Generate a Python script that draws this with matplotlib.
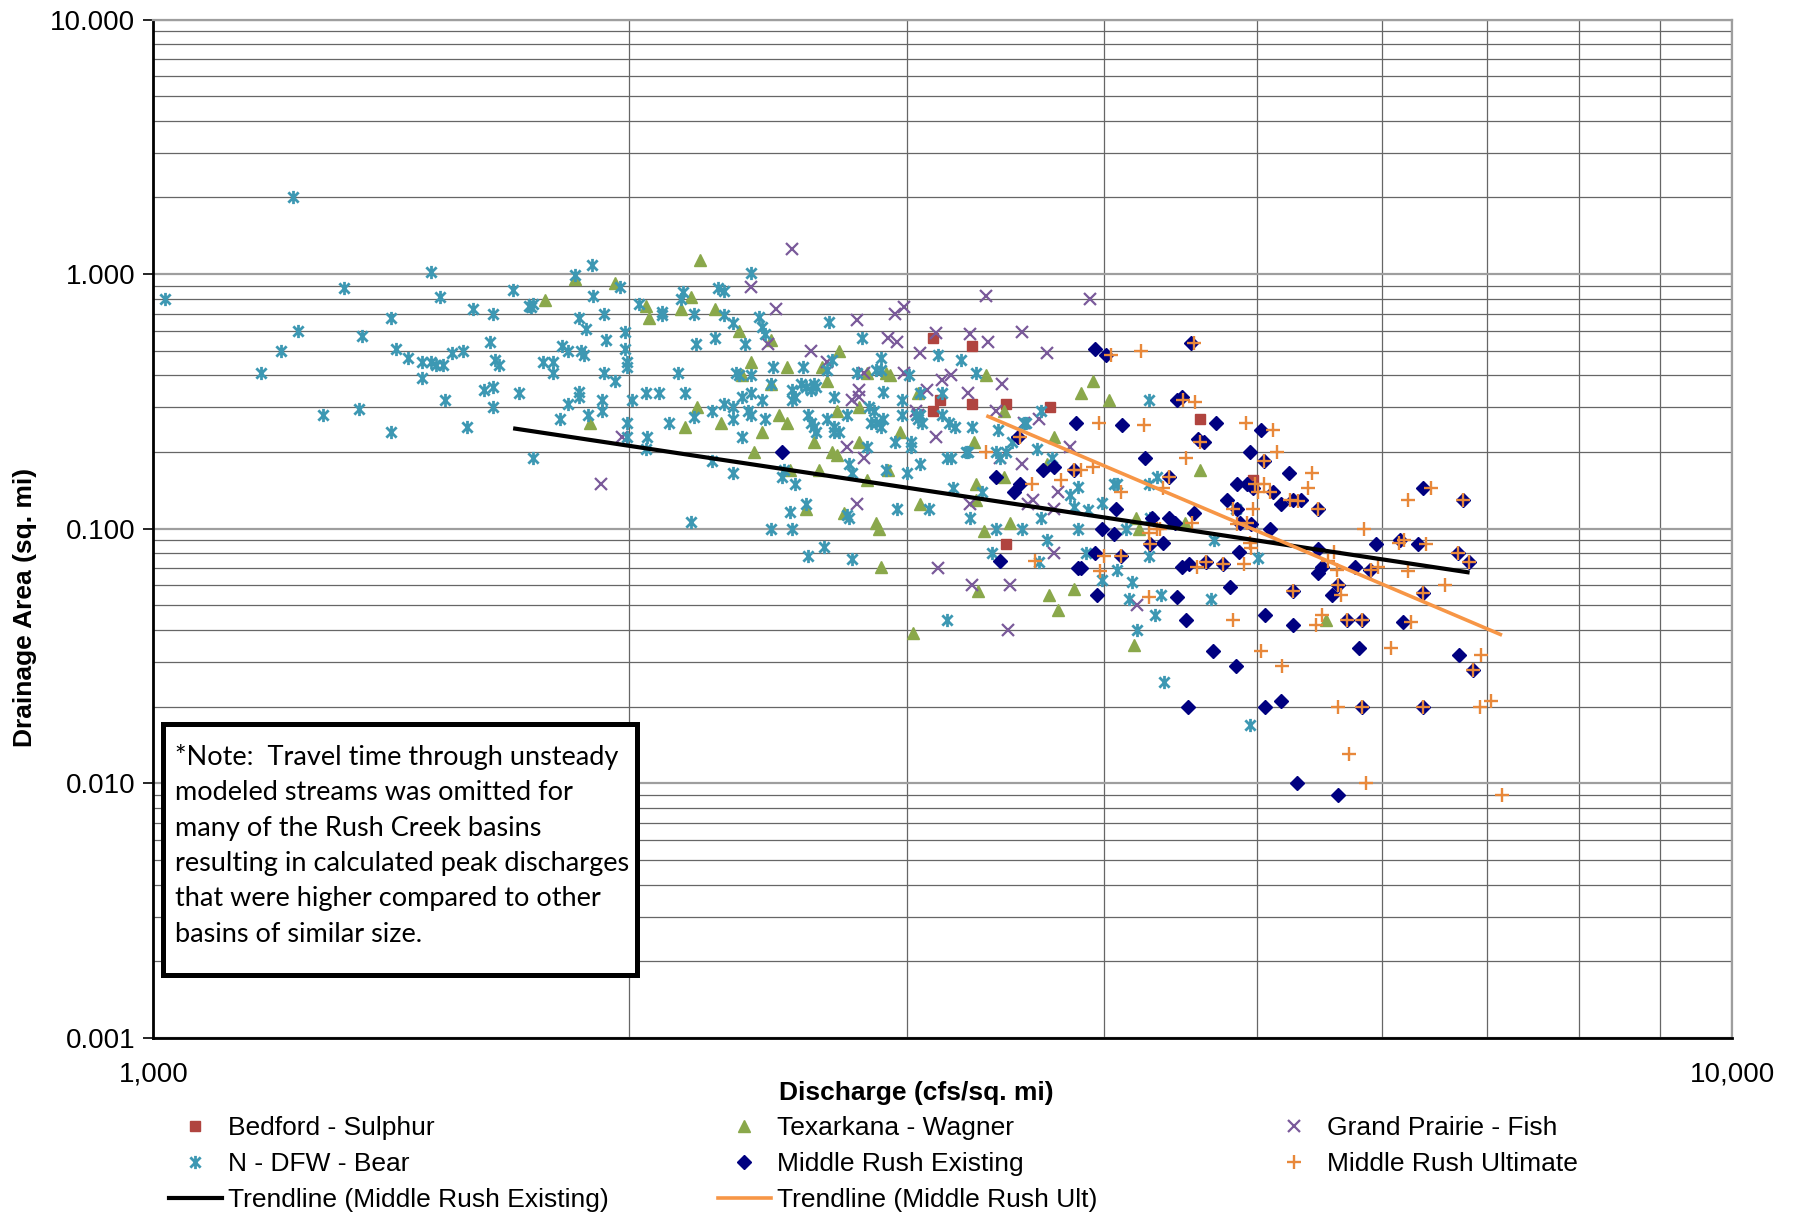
import matplotlib
matplotlib.use("Agg")
import matplotlib.pyplot as plt
from matplotlib.path import Path
from matplotlib.ticker import LogLocator, FuncFormatter, NullFormatter
from matplotlib.lines import Line2D
from matplotlib.patches import Rectangle

plt.rcParams['font.family'] = ['Liberation Sans', 'DejaVu Sans']

# ---------------- data (discharge cfs/sq.mi, drainage area sq.mi) ----------------
bedford_x = [3120, 3300, 3150, 3120, 3300, 3470, 3700, 3470, 4600, 4970]
bedford_y = [0.56, 0.52, 0.32, 0.29, 0.31, 0.31, 0.30, 0.087, 0.27, 0.155]

texarkana_x = [1770, 1850, 1890, 1960, 2220, 2050, 2060, 2160, 2190, 2270, 2350, 2460, 2390, 2360,
               2460, 2520, 2650, 2670, 2720, 2210, 2170, 2290, 2430, 2400, 2490, 2520, 2530, 2620,
               2640, 2710, 2690, 2710, 2800, 2800, 2830, 2830, 2910, 2930, 2970, 2920, 2590, 2740,
               2870, 2880, 2890, 3050, 3060, 3310, 3370, 3320, 3320, 3460, 3460, 3680, 3720, 3360,
               3490, 3330, 3030, 3690, 3740, 3870, 3940, 4030, 4600, 4190, 4210, 4500, 3830, 4180,
               5530]
texarkana_y = [0.79, 0.96, 0.26, 0.92, 1.14, 0.75, 0.67, 0.73, 0.81, 0.73, 0.60, 0.55, 0.45, 0.40,
               0.37, 0.43, 0.43, 0.38, 0.50, 0.30, 0.25, 0.26, 0.24, 0.20, 0.28, 0.26, 0.17, 0.22,
               0.17, 0.29, 0.20, 0.195, 0.30, 0.22, 0.155, 0.41, 0.41, 0.40, 0.24, 0.17, 0.12, 0.115,
               0.105, 0.10, 0.071, 0.34, 0.125, 0.22, 0.40, 0.15, 0.13, 0.29, 0.16, 0.18, 0.23, 0.098,
               0.105, 0.057, 0.039, 0.055, 0.048, 0.34, 0.38, 0.32, 0.17, 0.11, 0.10, 0.105, 0.058, 0.035,
               0.044]

prairie_x = [1920, 2540, 2390, 2480, 2450, 2610, 2670, 2790, 2950, 2990, 2920, 2960, 2820, 2800,
             2770, 2800, 2990, 3060, 3130, 3290, 3380, 3370, 3550, 3680, 3160, 3200, 3090, 3280,
             3450, 3420, 3560, 3640, 3040, 3050, 3130, 3550, 3440, 2750, 2820, 2790, 1980, 3290,
             3580, 3720, 3140, 3300, 3490, 3480, 3720, 3920, 3810, 3740, 3610, 4200]
prairie_y = [0.15, 1.26, 0.89, 0.73, 0.53, 0.50, 0.45, 0.66, 0.70, 0.74, 0.56, 0.54, 0.41, 0.35,
             0.32, 0.33, 0.41, 0.49, 0.585, 0.58, 0.54, 0.82, 0.59, 0.49, 0.385, 0.40, 0.35, 0.34,
             0.37, 0.29, 0.26, 0.27, 0.29, 0.28, 0.23, 0.18, 0.19, 0.21, 0.19, 0.125, 0.23, 0.125,
             0.125, 0.12, 0.07, 0.06, 0.06, 0.04, 0.08, 0.80, 0.21, 0.14, 0.13, 0.05]

ndfw_x = [1017, 1225, 1320, 1500, 1520, 1235, 1205, 1170, 1355, 1415, 1425, 1450, 1480, 1500,
          1510, 1525, 1480, 1280, 1350, 1415, 1530, 1545, 1570, 1595, 1640, 1635, 1645, 1655,
          1620, 1640, 1640, 1580, 1690, 1705, 1730, 1740, 1735, 1740, 1765, 1790, 1790, 1810,
          1830, 1860, 1860, 1885, 1815, 1830, 1865, 1875, 1850, 1895, 1900, 1860, 1880, 1930,
          1935, 1930, 1925, 1925,
          1975, 1990, 1990, 1995, 1995, 1960, 1995, 1995, 2010, 2030, 2050, 2090, 2055, 2050,
          2100, 2100, 2120, 2150, 2165, 2160, 2170, 2200, 2205, 2200, 2260, 2260, 2270, 2280,
          2300, 2300, 2330, 2300, 2330, 2360, 2330, 2380, 2330, 2370, 2340, 2350, 2390, 2390,
          2420, 2430, 2440, 2390, 2390, 2360, 2430, 2440, 2470, 2460, 2500, 2510, 2550, 2540,
          2540, 2550, 2570, 2580, 2590, 2590, 2610, 2620, 2630, 2600, 2610, 2620, 2630, 2670,
          2700, 2700, 2720, 2680, 2700, 2690, 2670, 2760, 2770, 2750, 2790, 2810, 2830, 2840,
          2860, 2850, 2870, 2890, 2900, 2870, 2890, 2890, 2900, 2910, 2950, 2960, 2980, 2980,
          3000, 3010, 3020, 3020, 3040, 3050, 3060, 3070, 3060, 3060, 3100, 3140, 3160, 3160,
          3190, 3220, 3180, 3200, 3210, 3250, 3270, 3280, 3290, 3300, 3320, 3350, 3420, 3440,
          3470, 3430, 3500, 3560, 3570, 3630, 3650, 3650,
          2190, 2460, 2530, 2540, 2600, 2660, 2750, 2760, 2770, 3180, 3400, 3420, 3550, 3680,
          3640,
          4270, 3710, 3810, 3850, 3830, 3910, 3990, 3850, 4060, 4080, 4270, 4320, 4280, 4130,
          3900, 3990, 4080, 4170, 4270, 4350, 4150, 4700, 4680, 5010, 4850, 4310, 4200, 4370,
          4950]
ndfw_y = [0.80, 2.0, 0.88, 1.02, 0.81, 0.60, 0.50, 0.41, 0.57, 0.67, 0.51, 0.47, 0.45, 0.45,
          0.44, 0.44, 0.39, 0.28, 0.295, 0.24, 0.32, 0.49, 0.50, 0.73, 0.70, 0.54, 0.46, 0.44,
          0.35, 0.36, 0.30, 0.25, 0.87, 0.34, 0.75, 0.76, 0.74, 0.19, 0.45, 0.45, 0.41, 0.27,
          0.31, 0.33, 0.345, 0.28, 0.52, 0.50, 0.50, 0.48, 0.99, 1.09, 0.82, 0.67, 0.61, 0.70,
          0.55, 0.41, 0.32, 0.29,
          0.89, 0.59, 0.51, 0.45, 0.43, 0.38, 0.26, 0.23, 0.32, 0.76, 0.34, 0.34, 0.23, 0.205,
          0.69, 0.71, 0.26, 0.41, 0.85, 0.80, 0.34, 0.70, 0.53, 0.275, 0.29, 0.185, 0.56, 0.88,
          0.86, 0.69, 0.64, 0.31, 0.30, 0.33, 0.27, 0.29, 0.165, 0.53, 0.41, 0.40, 0.40, 1.01,
          0.68, 0.62, 0.58, 0.34, 0.28, 0.23, 0.32, 0.27, 0.43, 0.37, 0.16, 0.17, 0.15, 0.32,
          0.35, 0.33, 0.37, 0.43, 0.125, 0.36, 0.35, 0.37, 0.36, 0.28, 0.26, 0.25, 0.24, 0.27,
          0.25, 0.24, 0.24, 0.65, 0.33, 0.46, 0.42, 0.18, 0.165, 0.28, 0.41, 0.56, 0.21, 0.30,
          0.29, 0.26, 0.26, 0.25, 0.27, 0.42, 0.42, 0.47, 0.345, 0.17, 0.22, 0.12, 0.32, 0.28,
          0.165, 0.40, 0.22, 0.21, 0.28, 0.27, 0.28, 0.26, 0.34, 0.18, 0.12, 0.48, 0.34, 0.28,
          0.26, 0.25, 0.19, 0.19, 0.145, 0.46, 0.20, 0.20, 0.11, 0.25, 0.41, 0.14, 0.20, 0.19,
          0.20, 0.245, 0.22, 0.26, 0.26, 0.205, 0.29, 0.11,
          0.106, 0.10, 0.116, 0.10, 0.078, 0.085, 0.113, 0.11, 0.076, 0.044, 0.08, 0.10, 0.10, 0.09,
          0.074,
          0.32, 0.19, 0.136, 0.146, 0.122, 0.118, 0.126, 0.10, 0.15, 0.15, 0.15, 0.16, 0.11, 0.10,
          0.08, 0.063, 0.069, 0.062, 0.078, 0.055, 0.053, 0.09, 0.053, 0.077, 0.12, 0.046, 0.040, 0.025,
          0.017]

mr_exist_x = [2500, 3420, 3530, 3660, 3720, 3540, 3510, 3440, 3950, 4010, 4540, 4450, 4480, 3840,
              4110, 4710, 5030, 4590, 4630, 4250, 4950, 5050, 3830, 4400, 5240, 4860, 4930, 4970,
              6370, 4790, 4860, 5120, 5180, 5270, 5330, 5470, 6750, 4070, 4560, 4290, 4400, 4440,
              4880, 4960, 5100, 3990, 4060, 4360, 4280, 3950, 4100, 4870, 5470, 5950, 6160, 6330,
              6710, 6810, 3850, 3870, 4480, 4530, 4640, 4760, 5470, 5500, 5770, 5900, 4810, 5270,
              5630, 5580, 6370, 3960, 4450, 4510, 5060, 5270, 5700, 5830, 6190, 4690, 4850, 5800,
              6720, 6850, 4520, 5060, 5180, 5830, 6370, 5300, 5630]
mr_exist_y = [0.20, 0.16, 0.23, 0.17, 0.175, 0.15, 0.14, 0.075, 0.51, 0.48, 0.535, 0.32, 0.33, 0.26,
              0.255, 0.26, 0.245, 0.225, 0.22, 0.19, 0.20, 0.185, 0.17, 0.16, 0.165, 0.15, 0.15, 0.145,
              0.145, 0.13, 0.12, 0.14, 0.125, 0.13, 0.13, 0.12, 0.13, 0.12, 0.115, 0.11, 0.11, 0.105,
              0.105, 0.104, 0.10, 0.10, 0.095, 0.088, 0.087, 0.08, 0.078, 0.081, 0.083, 0.087, 0.09, 0.087,
              0.08, 0.074, 0.07, 0.07, 0.071, 0.073, 0.074, 0.073, 0.067, 0.071, 0.071, 0.069, 0.059, 0.057,
              0.06, 0.055, 0.056, 0.055, 0.054, 0.044, 0.046, 0.042, 0.044, 0.044, 0.043, 0.033, 0.029, 0.034,
              0.032, 0.028, 0.02, 0.02, 0.021, 0.02, 0.02, 0.01, 0.009]

mr_ult_x = [3370, 3540, 3600, 3620, 4040, 4220, 4560, 4490, 4570, 3970, 4240, 4920, 5120, 5150,
            4510, 4600, 5050, 5420, 5390, 6450, 6230, 6750, 3830, 3870, 3940, 4400, 3760, 4100,
            4360, 4990, 5050, 5010, 5100, 4830, 4970, 5250, 5310, 5470, 4340, 4320, 4550, 4860,
            4930, 5850, 4270, 4280, 4950, 4960, 5600, 6150, 6200, 6400, 6710, 6810, 4000, 4100,
            3980, 4580, 4640, 4760, 4910, 5550, 5620, 5910, 5970, 6230, 6580, 5270, 5630, 5650,
            6370, 4270, 4830, 5450, 5500, 5700, 5830, 6260, 5030, 5190, 6080, 6930, 6850, 5630,
            5830, 6370, 6920, 7040, 5720, 5860, 7150]
mr_ult_y = [0.20, 0.23, 0.15, 0.075, 0.48, 0.50, 0.535, 0.32, 0.315, 0.26, 0.255, 0.26, 0.245, 0.20,
            0.19, 0.22, 0.185, 0.165, 0.145, 0.145, 0.13, 0.13, 0.17, 0.17, 0.175, 0.16, 0.155, 0.14,
            0.145, 0.15, 0.15, 0.14, 0.14, 0.12, 0.12, 0.13, 0.128, 0.12, 0.10, 0.10, 0.105, 0.104,
            0.105, 0.10, 0.096, 0.087, 0.088, 0.084, 0.081, 0.088, 0.09, 0.087, 0.08, 0.074, 0.078, 0.078,
            0.068, 0.071, 0.074, 0.073, 0.073, 0.075, 0.069, 0.069, 0.071, 0.068, 0.06, 0.057, 0.06, 0.055,
            0.056, 0.054, 0.044, 0.042, 0.046, 0.044, 0.044, 0.043, 0.033, 0.029, 0.034, 0.032, 0.028, 0.02,
            0.02, 0.02, 0.02, 0.021, 0.013, 0.01, 0.009]

trend_exist_x = [1690, 6820]
trend_exist_y = [0.248, 0.0673]
trend_ult_x = [3370, 7150]
trend_ult_y = [0.278, 0.0382]

y_ticks = [0.001, 0.01, 0.1, 1, 10]
x_ticks = [1000, 10000]

note_lines = ["*Note:  Travel time through unsteady",
              "modeled streams was omitted for",
              "many of the Rush Creek basins",
              "resulting in calculated peak discharges",
              "that were higher compared to other",
              "basins of similar size."]

# ---------------- styling ----------------
W, H = 1795, 1214
C_RED = '#B0443F'
C_GREEN = '#8AA84B'
C_PURPLE = '#7A5A9A'
C_TEAL = '#3D98B3'
C_NAVY = '#000080'
C_ORANGE = '#E8883A'
C_ORANGE_LINE = '#F79646'

ast = Path([(0, -1), (0, 1), (-0.78, -0.78), (0.78, 0.78), (-0.78, 0.78), (0.78, -0.78)],
           [Path.MOVETO, Path.LINETO] * 3)

fig = plt.figure(figsize=(W / 100, H / 100), dpi=100)
ax = fig.add_axes([153.4 / W, 1 - 1038 / H, (1732 - 153.4) / W, (1038 - 19.5) / H])
ax.set_xscale('log')
ax.set_yscale('log')
ax.set_xlim(1000, 10000)
ax.set_ylim(0.001, 10)

ax.set_axisbelow(True)
ax.grid(which='minor', color='#666666', lw=0.9)
ax.grid(which='major', color='#9e9e9e', lw=1.6)

ax.xaxis.set_major_locator(LogLocator(base=10))
ax.xaxis.set_minor_locator(LogLocator(base=10, subs=range(2, 10)))
ax.yaxis.set_minor_locator(LogLocator(base=10, subs=range(2, 10), numticks=20))
ax.set_xticks(x_ticks)
ax.set_yticks(y_ticks)
ax.xaxis.set_major_formatter(FuncFormatter(lambda v, p: f"{v:,.0f}"))
ax.yaxis.set_major_formatter(FuncFormatter(lambda v, p: f"{v:.3f}"))
ax.xaxis.set_minor_formatter(NullFormatter())
ax.yaxis.set_minor_formatter(NullFormatter())
ax.tick_params(axis='y', which='major', direction='out', length=7, width=1.2, pad=6, labelsize=20)
ax.tick_params(axis='x', which='major', direction='out', length=0, pad=17, labelsize=20)
ax.tick_params(which='minor', length=0)

for s in ['left', 'bottom']:
    ax.spines[s].set_color('black')
    ax.spines[s].set_linewidth(2)
for s in ['top', 'right']:
    ax.spines[s].set_color('#9e9e9e')
    ax.spines[s].set_linewidth(1.6)

MS_AST, MW_AST = 9.5, 2.0
MS_X, MW_X = 8.3, 1.6

ax.plot(bedford_x, bedford_y, ls='none', marker='s', ms=6.5, mfc=C_RED, mec=C_RED)
ax.plot(texarkana_x, texarkana_y, ls='none', marker='^', ms=8.7, mfc=C_GREEN, mec=C_GREEN)
ax.plot(prairie_x, prairie_y, ls='none', marker='x', ms=MS_X, mec=C_PURPLE, mew=MW_X)
ax.plot(ndfw_x, ndfw_y, ls='none', marker=ast, ms=MS_AST, mec=C_TEAL, mfc='none', mew=MW_AST)
ax.plot(mr_exist_x, mr_exist_y, ls='none', marker='D', ms=7.5, mfc=C_NAVY, mec=C_NAVY)
ax.plot(mr_ult_x, mr_ult_y, ls='none', marker='+', ms=10.5, mec=C_ORANGE, mew=1.7)
ax.plot(trend_exist_x, trend_exist_y, color='black', lw=3.0, solid_capstyle='butt')
ax.plot(trend_ult_x, trend_ult_y, color=C_ORANGE_LINE, lw=2.6, solid_capstyle='butt')

# axis titles
fig.text(916 / W, 1 - 1093 / H, 'Discharge (cfs/sq. mi)', ha='center', va='center',
         fontsize=19, fontweight='bold')
fig.text(25 / W, 1 - 607 / H, 'Drainage Area (sq. mi)', ha='center', va='center',
         rotation=90, fontsize=19, fontweight='bold')

# note box
box = Rectangle((162.5 / W, 1 - 974.5 / H), (636.5 - 162.5) / W, (974.5 - 723.5) / H,
                transform=fig.transFigure, facecolor='white', edgecolor='black', lw=3.6, zorder=5)
fig.patches.append(box)
baselines = [765, 800.3, 835.6, 870.9, 906.2, 941.5]
for line, b in zip(note_lines, baselines):
    fig.text(175 / W, 1 - b / H, line, ha='left', va='baseline', fontsize=19.5,
             family=['Lato', 'DejaVu Sans'], zorder=6)

# legend (three columns)
def mk(marker, color, ms, mew=1.0, filled=True):
    return Line2D([], [], ls='none', marker=marker, ms=ms,
                  mfc=color if filled else 'none', mec=color, mew=mew)

h_bed = mk('s', C_RED, 6.5)
h_tex = mk('^', C_GREEN, 8.7)
h_pra = mk('x', C_PURPLE, MS_X, MW_X)
h_ndf = mk(ast, C_TEAL, MS_AST, MW_AST, False)
h_mre = mk('D', C_NAVY, 7.5)
h_mru = mk('+', C_ORANGE, 10.5, 1.7)
h_te = Line2D([], [], color='black', lw=3.0)
h_tu = Line2D([], [], color=C_ORANGE_LINE, lw=2.6)

cols = [([h_bed, h_ndf, h_te], ['Bedford - Sulphur', 'N - DFW - Bear', 'Trendline (Middle Rush Existing)'], 169),
        ([h_tex, h_mre, h_tu], ['Texarkana - Wagner', 'Middle Rush Existing', 'Trendline (Middle Rush Ult)'], 718),
        ([h_pra, h_mru], ['Grand Prairie - Fish', 'Middle Rush Ultimate'], 1268)]
for hs, ls_, xl in cols:
    leg = fig.legend(hs, ls_, loc='upper left', bbox_to_anchor=(xl / W, 1 - 1116 / H),
                     frameon=False, fontsize=19, handlelength=2.0, handletextpad=0.25,
                     labelspacing=0.46, borderpad=0, borderaxespad=0)

fig.savefig('out.png', dpi=100)
